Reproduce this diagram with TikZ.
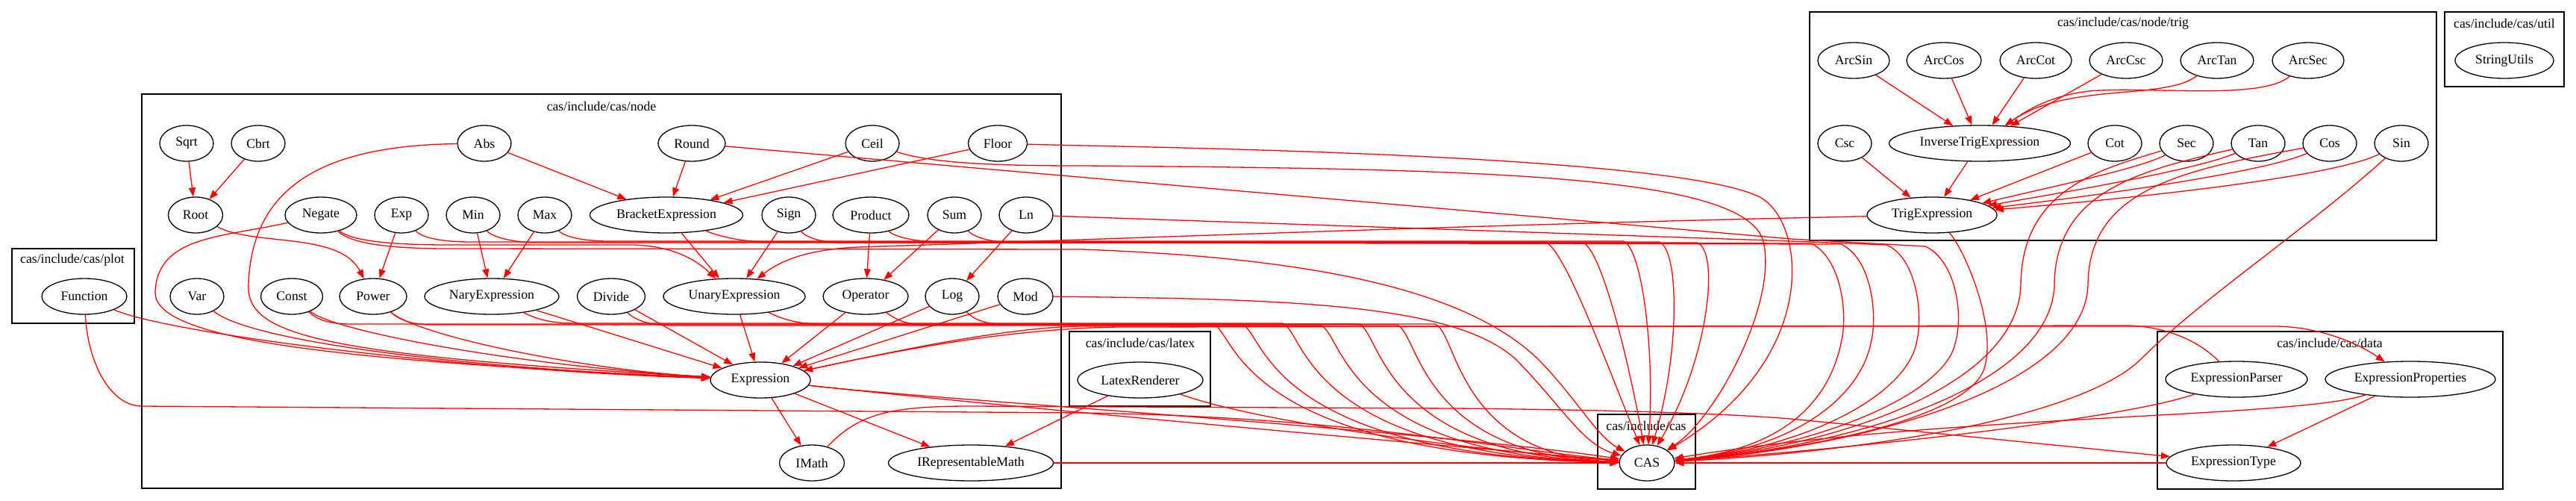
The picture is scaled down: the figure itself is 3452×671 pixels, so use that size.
\documentclass[tikz,border=0pt]{standalone}
\usepackage{fontspec}
\setmainfont{Liberation Serif}
\usetikzlibrary{shapes.geometric,arrows.meta}
\newcommand\gvfont{\fontsize{17.7}{20}\selectfont}
\begin{document}
\begin{tikzpicture}[x=1pt,y=-1pt,
  nd/.style={draw, ellipse, line width=1.3pt, inner sep=0pt, minimum height=48pt, minimum width=#1, font=\gvfont},
  nd/.default=72pt,
  cl/.style={draw, line width=1.3pt},
  lbl/.style={inner sep=0pt, font=\gvfont},
  e/.style={draw=red, line width=1.3pt, -{Triangle[length=12pt,width=9pt]}}]
\useasboundingbox (0,0) rectangle (3452,671);
% clusters
\draw[cl] (190,126) rectangle (1422,654);
\draw[cl] (16,333) rectangle (180,433);
\draw[cl] (1433,444) rectangle (1622,544);
\draw[cl] (2141,555) rectangle (2272,655);
\draw[cl] (2425,16) rectangle (3265,322);
\draw[cl] (3276,16) rectangle (3436,116);
\draw[cl] (2891,444) rectangle (3354,655);
\node[lbl] (Lnode) at (806,142) {cas/include/cas/node};
\node[lbl] (Lplot) at (97,348) {cas/include/cas/plot};
\node[lbl] (Llatex) at (1528,459) {cas/include/cas/latex};
\node[lbl] (Lcas) at (2206,570) {cas/include/cas};
\node[lbl] (Ltrig) at (2845,31) {cas/include/cas/node/trig};
\node[lbl] (Lutil) at (3356,31) {cas/include/cas/util};
\node[lbl] (Ldata) at (3122,459) {cas/include/cas/data};
% nodes
\node[nd] (Sqrt) at (250,192) {Sqrt};
\node[nd] (Cbrt) at (346,192) {Cbrt};
\node[nd] (Abs) at (649,192) {Abs};
\node[nd=90pt] (Round) at (927,192) {Round};
\node[nd] (Ceil) at (1169,192) {Ceil};
\node[nd=79pt] (Floor) at (1337,192) {Floor};
\node[nd=73pt] (Root) at (262,288) {Root};
\node[nd=96pt] (Negate) at (430,288) {Negate};
\node[nd] (Exp) at (538,288) {Exp};
\node[nd] (Min) at (634,288) {Min};
\node[nd] (Max) at (730,288) {Max};
\node[nd=205pt] (BracketExpression) at (893,288) {BracketExpression};
\node[nd] (Sign) at (1057,288) {Sign};
\node[nd=102pt] (Product) at (1167,288) {Product};
\node[nd] (Sum) at (1279,288) {Sum};
\node[nd] (Ln) at (1375,288) {Ln};
\node[nd=114pt] (Function) at (113,397) {Function};
\node[nd] (Var) at (264,397) {Var};
\node[nd=83pt] (Const) at (391,397) {Const};
\node[nd=90pt] (Power) at (500,397) {Power};
\node[nd=180pt] (NaryExpression) at (659,397) {NaryExpression};
\node[nd=91pt] (Divide) at (819,397) {Divide};
\node[nd=190pt] (UnaryExpression) at (984,397) {UnaryExpression};
\node[nd=114pt] (Operator) at (1160,397) {Operator};
\node[nd] (Log) at (1276,397) {Log};
\node[nd=74pt] (Mod) at (1374,397) {Mod};
\node[nd=134pt] (Expression) at (1019,509) {Expression};
\node[nd=87pt] (IMath) at (1088,620) {IMath};
\node[nd=221pt] (IRepresentableMath) at (1301,620) {IRepresentableMath};
\node[nd=168pt] (LatexRenderer) at (1528,509) {LatexRenderer};
\node[nd=74pt] (CAS) at (2207,620) {CAS};
\node[nd=96pt] (ArcSin) at (2484,81) {ArcSin};
\node[nd=100pt] (ArcCos) at (2605,81) {ArcCos};
\node[nd=96pt] (ArcCot) at (2728,81) {ArcCot};
\node[nd=98pt] (ArcCsc) at (2849,81) {ArcCsc};
\node[nd=98pt] (ArcTan) at (2971,81) {ArcTan};
\node[nd=96pt] (ArcSec) at (3093,81) {ArcSec};
\node[nd] (Csc) at (2472,192) {Csc};
\node[nd=243pt] (InverseTrigExpression) at (2653,192) {InverseTrigExpression};
\node[nd] (Cot) at (2834,192) {Cot};
\node[nd] (Sec) at (2930,192) {Sec};
\node[nd] (Tan) at (3026,192) {Tan};
\node[nd] (Cos) at (3122,192) {Cos};
\node[nd] (Sin) at (3218,192) {Sin};
\node[nd=174pt] (TrigExpression) at (2589,288) {TrigExpression};
\node[nd=132pt] (StringUtils) at (3356,81) {StringUtils};
\node[nd=190pt] (ExpressionParser) at (2997,508) {ExpressionParser};
\node[nd=228pt] (ExpressionProperties) at (3230,508) {ExpressionProperties};
\node[nd=180pt] (ExpressionType) at (2993,620) {ExpressionType};
% straight edges
\draw[e] (Sqrt) -- (Root);
\draw[e] (Cbrt) -- (Root);
\draw[e] (Abs) -- (BracketExpression);
\draw[e] (Round) -- (BracketExpression);
\draw[e] (Ceil) -- (BracketExpression);
\draw[e] (Floor) -- (BracketExpression);
\draw[e] (Exp) -- (Power);
\draw[e] (Min) -- (NaryExpression);
\draw[e] (Max) -- (NaryExpression);
\draw[e] (BracketExpression) -- (UnaryExpression);
\draw[e] (Sign) -- (UnaryExpression);
\draw[e] (Product) -- (Operator);
\draw[e] (Sum) -- (Operator);
\draw[e] (Ln) -- (Log);
\draw[e] (NaryExpression) -- (Expression);
\draw[e] (Divide) -- (Expression);
\draw[e] (UnaryExpression) -- (Expression);
\draw[e] (Operator) -- (Expression);
\draw[e] (Log) -- (Expression);
\draw[e] (Mod) -- (Expression);
\draw[e] (Expression) -- (IMath);
\draw[e] (Expression) -- (IRepresentableMath);
\draw[e] (LatexRenderer) -- (IRepresentableMath);
\draw[e] (IRepresentableMath) -- (CAS);
\draw[e] (ExpressionType) -- (CAS);
\draw[e] (ExpressionProperties) -- (ExpressionType);
\draw[e] (ArcSin) -- (InverseTrigExpression);
\draw[e] (ArcCos) -- (InverseTrigExpression);
\draw[e] (ArcCot) -- (InverseTrigExpression);
\draw[e] (ArcCsc) -- (InverseTrigExpression);
\draw[e] (Csc) -- (TrigExpression);
\draw[e] (InverseTrigExpression) -- (TrigExpression);
\draw[e] (Cot) -- (TrigExpression);
% curved edges inside node cluster
\draw[e] (Root) .. controls (340,330) and (455,310) .. (Power);
\draw[e] (Negate) .. controls (300,318) and (212,315) .. (208,390) .. controls (204,452) and (420,482) .. (Expression);
\draw[e] (Abs) .. controls (440,195) and (338,245) .. (333,380) .. controls (329,448) and (420,475) .. (Expression);
\draw[e] (Var) .. controls (330,455) and (600,492) .. (Expression);
\draw[e] (Const) .. controls (450,445) and (700,490) .. (Expression);
\draw[e] (Function) .. controls (220,445) and (600,495) .. (Expression);
\draw[e] (Power) .. controls (560,450) and (780,495) .. (Expression);
\draw[e] (Negate) .. controls (470,322) and (520,328) .. (600,328) -- (850,328) .. controls (905,330) and (935,350) .. (UnaryExpression);
\draw[e] (TrigExpression) .. controls (2000,300) and (1500,320) .. (1150,331) .. controls (1080,334) and (1045,350) .. (UnaryExpression);
% to CAS from the left
\draw[e] (Function) .. controls (118,490) and (150,544) .. (190,544) -- (1450,553) .. controls (1800,558) and (2000,600) .. (CAS);
\draw[e] (Expression) .. controls (1250,535) and (1900,575) .. (CAS);
\draw[e] (Expression) .. controls (1300,540) and (1850,590) .. (CAS);
\draw[e] (IMath) .. controls (1150,555) and (1190,544) .. (1300,544) -- (1950,547) .. controls (2150,549) and (2300,553) .. (2400,561) -- (ExpressionType);
\draw[e] (LatexRenderer) .. controls (1700,570) and (2000,605) .. (CAS);
\draw[e] (Mod) .. controls (1750,400) and (1950,410) .. (2030,480) .. controls (2090,540) and (2120,595) .. (CAS);
\draw[e] (Negate) .. controls (470,326) and (520,333) .. (600,333) -- (1450,334) .. controls (1750,345) and (1960,385) .. (2060,480) .. controls (2110,530) and (2140,585) .. (CAS);
% lower bundle
\draw[e] (Const) .. controls (425,428) and (440,434) .. (470,434) -- (1626,434) .. controls (1656,445) and (1656,610) .. (CAS);
\draw[e] (Power) .. controls (535,428) and (550,435) .. (580,435) -- (1665,435) .. controls (1695,446) and (1695,610) .. (CAS);
\draw[e] (NaryExpression) .. controls (720,428) and (740,433) .. (770,433) -- (1719,433) .. controls (1749,445) and (1749,610) .. (CAS);
\draw[e] (Divide) .. controls (850,428) and (870,436) .. (900,436) -- (1770,436) .. controls (1800,447) and (1800,610) .. (CAS);
\draw[e] (UnaryExpression) .. controls (1050,428) and (1070,434) .. (1100,434) -- (1821,434) .. controls (1851,445) and (1851,610) .. (CAS);
\draw[e] (Operator) .. controls (1200,428) and (1215,435) .. (1240,435) -- (1872,435) .. controls (1902,446) and (1902,610) .. (CAS);
\draw[e] (Log) .. controls (1305,428) and (1320,434) .. (1345,434) -- (1923,434) .. controls (1953,445) and (1953,610) .. (CAS);
% upper bundle
\draw[e] (Exp) .. controls (565,318) and (590,324) .. (630,324) -- (2070,324) .. controls (2095,330) and (2150,480) .. (CAS);
\draw[e] (Min) .. controls (660,318) and (690,325) .. (720,325) -- (2121,325) .. controls (2145,332) and (2182,480) .. (CAS);
\draw[e] (Max) .. controls (757,318) and (785,323) .. (815,323) -- (2175,323) .. controls (2200,330) and (2218,470) .. (CAS);
\draw[e] (BracketExpression) .. controls (960,315) and (990,324) .. (1030,324) -- (2223,324) .. controls (2250,332) and (2252,470) .. (CAS);
\draw[e] (Sign) .. controls (1080,318) and (1100,325) .. (1130,325) -- (2274,325) .. controls (2305,335) and (2290,480) .. (CAS);
\draw[e] (Product) .. controls (1200,318) and (1230,324) .. (1260,324) -- (2427,326) .. controls (2467,345) and (2477,420) .. (2467,460) .. controls (2452,530) and (2400,600) .. (CAS);
\draw[e] (Sum) .. controls (1305,318) and (1330,325) .. (1360,325) -- (2467,327) .. controls (2507,345) and (2517,420) .. (2507,460) .. controls (2492,530) and (2410,600) .. (CAS);
\draw[e] (Ln) -- (2400,323) -- (2528,328) .. controls (2568,345) and (2578,420) .. (2568,460) .. controls (2553,530) and (2420,600) .. (CAS);
\draw[e] (Round) -- (2400,320) -- (2580,330) .. controls (2620,348) and (2632,420) .. (2620,460) .. controls (2605,530) and (2430,600) .. (CAS);
\draw[e] (Ceil) .. controls (1250,220) and (1350,222) .. (1450,222) .. controls (2000,226) and (2330,235) .. (2362,320) .. controls (2385,400) and (2300,560) .. (CAS);
\draw[e] (Floor) .. controls (1500,197) and (2250,205) .. (2360,265) .. controls (2420,300) and (2440,480) .. (CAS);
% trig
\draw[e] (ArcTan) .. controls (2900,135) and (2770,110) .. (InverseTrigExpression);
\draw[e] (ArcSec) .. controls (3030,135) and (2880,115) .. (2800,122) .. controls (2750,128) and (2720,145) .. (InverseTrigExpression);
\draw[e] (Sec) .. controls (2870,225) and (2750,250) .. (TrigExpression);
\draw[e] (Tan) .. controls (2950,225) and (2800,252) .. (TrigExpression);
\draw[e] (Cos) .. controls (3040,228) and (2850,257) .. (TrigExpression);
\draw[e] (Sin) .. controls (3130,235) and (2900,262) .. (TrigExpression);
\draw[e] (TrigExpression) .. controls (2630,330) and (2675,430) .. (2660,490) .. controls (2645,555) and (2450,600) .. (CAS);
\draw[e] (Sec) .. controls (2810,228) and (2710,255) .. (2708,380) .. controls (2706,520) and (2450,600) .. (CAS);
\draw[e] (Tan) .. controls (2870,228) and (2755,255) .. (2753,380) .. controls (2751,520) and (2470,600) .. (CAS);
\draw[e] (Cos) .. controls (2920,228) and (2800,255) .. (2798,380) .. controls (2796,520) and (2490,600) .. (CAS);
\draw[e] (Sin) .. controls (3100,300) and (2950,400) .. (2870,480) .. controls (2790,560) and (2500,605) .. (CAS);
% data
\draw[e] (Expression) .. controls (1200,470) and (1350,438) .. (1450,437) -- (3050,437) .. controls (3110,438) and (3160,460) .. (ExpressionProperties);
\draw[e] (ExpressionParser) .. controls (2945,455) and (2900,437) .. (2850,436) -- (1500,438) .. controls (1350,440) and (1200,470) .. (Expression);
\draw[e] (ExpressionParser) .. controls (2850,560) and (2500,600) .. (CAS);
\draw[e] (ExpressionProperties) .. controls (3080,560) and (2600,555) .. (CAS);
\end{tikzpicture}
\end{document}
